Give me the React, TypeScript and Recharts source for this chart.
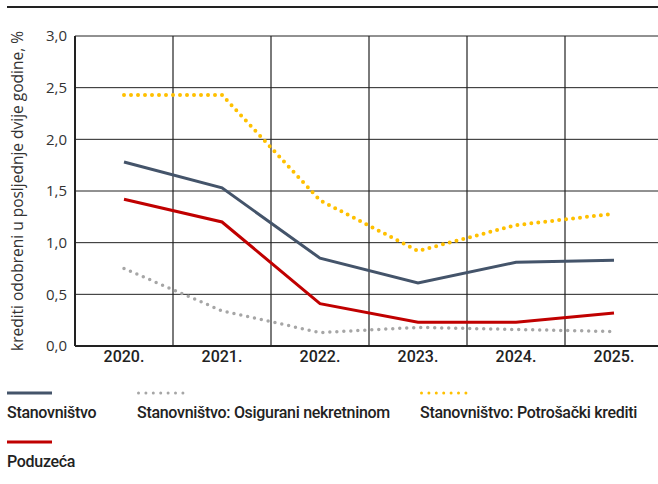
import React from "react";
import {
  LineChart,
  Line,
  XAxis,
  YAxis,
  CartesianGrid,
} from "recharts";

const years = ["2020.", "2021.", "2022.", "2023.", "2024.", "2025."];
const stanovnistvo = [1.78, 1.53, 0.85, 0.61, 0.81, 0.83];
const osigurani = [0.75, 0.34, 0.13, 0.18, 0.16, 0.14];
const potrosacki = [2.43, 2.43, 1.41, 0.92, 1.17, 1.28];
const poduzeca = [1.42, 1.2, 0.41, 0.23, 0.23, 0.32];
const yTicks = [0, 0.5, 1, 1.5, 2, 2.5, 3];
const xTicks = years.map((_, i) => i);
const gridTicks = years.slice(1).map((_, i) => i + 0.5);

const BLUE = "#44546a";
const GRAY = "#a6a6a6";
const YELLOW = "#ffc000";
const RED = "#c00000";

const data = years.map((y, i) => ({
  i,
  year: y,
  stanovnistvo: stanovnistvo[i],
  osigurani: osigurani[i],
  potrosacki: potrosacki[i],
  poduzeca: poduzeca[i],
}));

const legendItems = [
  { name: "Stanovništvo", color: BLUE, dotted: false, left: 0, top: 384 },
  { name: "Stanovništvo: Osigurani nekretninom", color: GRAY, dotted: true, left: 130, top: 384 },
  { name: "Stanovništvo: Potrošački krediti", color: YELLOW, dotted: true, left: 413, top: 384 },
  { name: "Poduzeća", color: RED, dotted: false, left: 0, top: 433 },
];

const labelFont = "Roboto, 'Noto Sans', sans-serif";
const axisFont = "'Open Sans', 'DejaVu Sans', sans-serif";

function LegendBlock() {
  return (
    <>
      {legendItems.map((it) => (
        <div
          key={it.name}
          style={{ position: "absolute", left: it.left, top: it.top }}
        >
          <svg width={48} height={6} style={{ display: "block" }}>
            {it.dotted ? (
              <line
                x1={1.5}
                y1={3}
                x2={46}
                y2={3}
                stroke={it.color}
                strokeWidth={3}
                strokeDasharray="0 7.4"
                strokeLinecap="round"
              />
            ) : (
              <line x1={0} y1={3} x2={45} y2={3} stroke={it.color} strokeWidth={3} />
            )}
          </svg>
          <div
            style={{
              marginTop: 7,
              fontFamily: labelFont,
              fontSize: 16,
              fontWeight: 500,
              color: "#222",
              whiteSpace: "nowrap",
              letterSpacing: -0.3,
            }}
          >
            {it.name}
          </div>
        </div>
      ))}
    </>
  );
}

export default function App() {
  return (
    <div
      style={{
        position: "absolute",
        left: 7,
        top: 6,
        width: 651,
        height: 476,
        overflow: "hidden",
      }}
    >
      <div style={{ height: 2, background: "#222", width: 651 }} />
      <LineChart
        width={660}
        height={360}
        data={data}
        margin={{ top: 28, right: 4, bottom: 0, left: 0 }}
      >
        <XAxis
          xAxisId="grid"
          type="number"
          dataKey="i"
          domain={[-0.5, 5.5]}
          ticks={gridTicks}
          hide
        />
        <CartesianGrid horizontal={false} xAxisId="grid" stroke="#7a7a7a" strokeWidth={2} />
        <CartesianGrid vertical={false} stroke="#222" strokeWidth={1} />
        <XAxis
          type="number"
          dataKey="i"
          domain={[-0.5, 5.5]}
          ticks={xTicks}
          tickFormatter={(v: number) => years[v]}
          height={22}
          tickLine={false}
          tickSize={5}
          tickMargin={0}
          axisLine={{ stroke: "#222", strokeWidth: 2 }}
          tick={{ fill: "#222", fontSize: 16, fontFamily: labelFont, fontWeight: 500 }}
          interval={0}
        />
        <YAxis
          domain={[0, 3]}
          ticks={yTicks}
          width={68}
          tickLine={false}
          axisLine={{ stroke: "#222", strokeWidth: 2 }}
          tickFormatter={(v: number) => v.toFixed(1).replace(".", ",")}
          tick={{ fill: "#333", fontSize: 15, fontFamily: axisFont }}
          label={{
            value: "krediti odobreni u posljednje dvije godine, %",
            angle: -90,
            position: "insideLeft",
            offset: 10,
            style: { textAnchor: "middle", fill: "#333", fontSize: 15.5, fontFamily: axisFont },
          }}
        />
        <Line
          dataKey="osigurani"
          stroke={GRAY}
          strokeWidth={3.5}
          strokeDasharray="0 7"
          strokeLinecap="round"
          dot={false}
          isAnimationActive={false}
        />
        <Line
          dataKey="potrosacki"
          stroke={YELLOW}
          strokeWidth={4}
          strokeDasharray="0 7"
          strokeLinecap="round"
          dot={false}
          isAnimationActive={false}
        />
        <Line
          dataKey="stanovnistvo"
          stroke={BLUE}
          strokeWidth={3}
          dot={false}
          isAnimationActive={false}
        />
        <Line
          dataKey="poduzeca"
          stroke={RED}
          strokeWidth={3}
          dot={false}
          isAnimationActive={false}
        />
      </LineChart>
      <LegendBlock />
    </div>
  );
}
